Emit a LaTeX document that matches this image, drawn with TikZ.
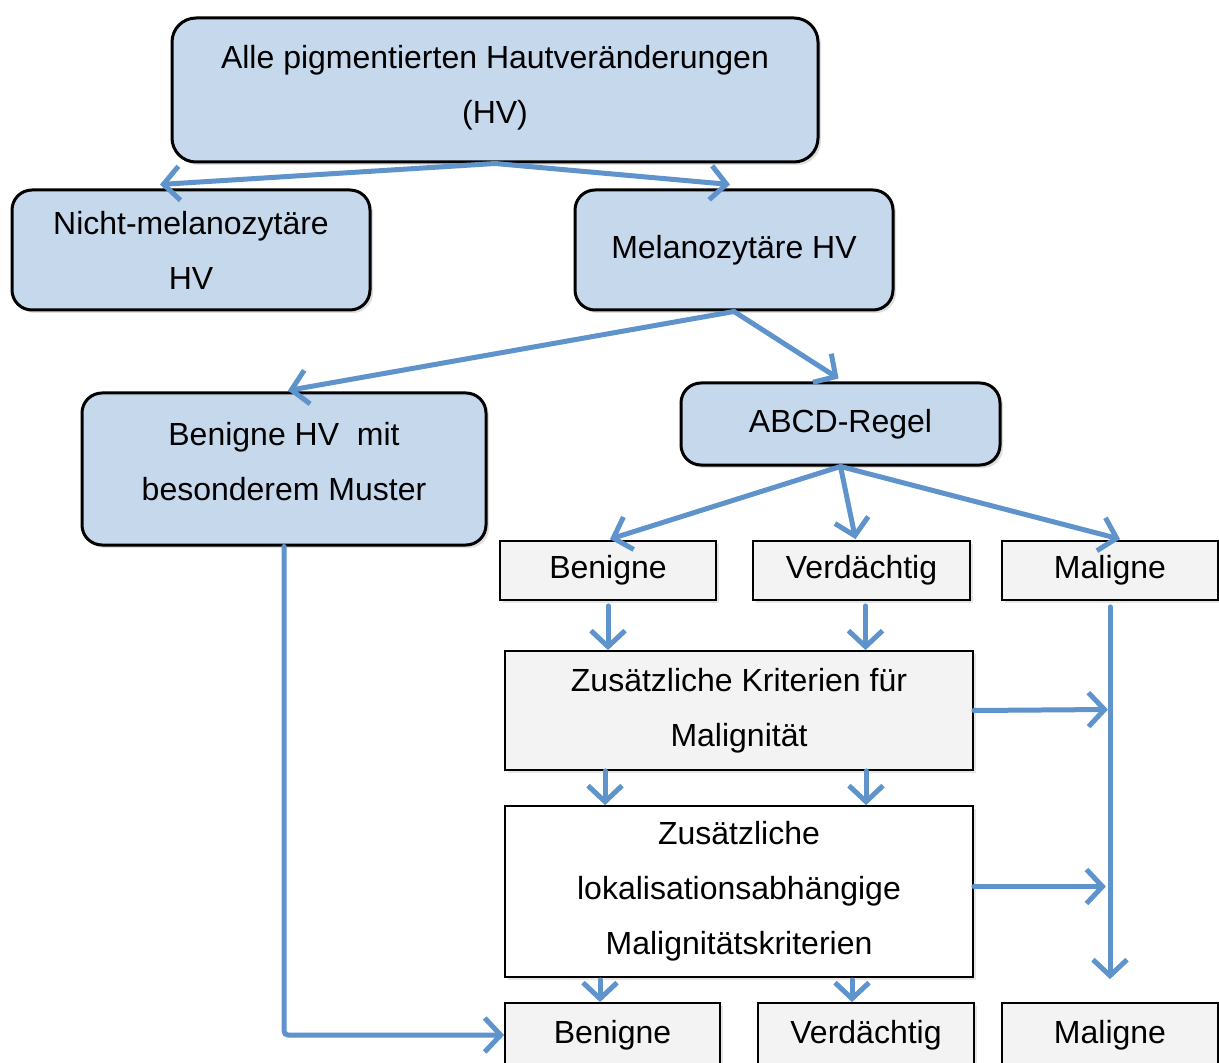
\documentclass[tikz,border=0pt]{standalone}
\usepackage{fontspec}
\setmainfont{Liberation Sans}
\usepackage{xcolor}
\usepackage{tikz}
\usetikzlibrary{calc,arrows.meta,shadows}

\definecolor{hvblue}{HTML}{C5D8EC}
\definecolor{hvgray}{HTML}{F3F3F3}
\definecolor{hvarrow}{HTML}{5E93CC}

\begin{document}
\begin{tikzpicture}[x=0.5pt,y=-0.5pt,
  font=\fontsize{16}{27.5}\selectfont,
  roundbox/.style={draw=black,line width=1.5pt,fill=hvblue,rounded corners=10pt,
    align=center,inner sep=0pt,
    drop shadow={opacity=0.25,shadow xshift=1.5pt,shadow yshift=-1.5pt}},
  rectbox/.style={draw=black,line width=0.9pt,fill=hvgray,align=center,inner sep=0pt,
    drop shadow={opacity=0.2,shadow xshift=1.5pt,shadow yshift=-1.5pt}},
  flow/.style={draw=hvarrow,line width=2.5pt,line cap=round,
    -{Straight Barb[length=8pt,width=17pt,line width=2.5pt]}}]
  \clip (0,0) rectangle (1219,1063);
  \fill[white] (0,0) rectangle (1219,1063);

  \node[roundbox,rounded corners=12pt,minimum width=323pt,minimum height=72pt,
    text depth=6pt] (alle) at (495,90)
    {Alle pigmentierten Hautveränderungen\\(HV)};
  \node[roundbox,minimum width=179pt,minimum height=60pt] (nicht) at (191,250)
    {Nicht-melanozytäre\\HV};
  \node[roundbox,minimum width=159pt,minimum height=60pt] (mela) at (734,250)
    {Melanozytäre HV};
  \node[roundbox,minimum width=202pt,minimum height=76pt,text depth=8pt] (besonders) at (284,469)
    {Benigne HV\ \ mit\\besonderem Muster};
  \node[roundbox,minimum width=159.5pt,minimum height=41pt] (abcd) at (840.5,424)
    {ABCD-Regel};

  \node[rectbox,minimum width=108pt,minimum height=29.5pt] (benA) at (608,570.5) {Benigne};
  \node[rectbox,minimum width=108.5pt,minimum height=29.5pt] (verA) at (861.5,570.5) {Verdächtig};
  \node[rectbox,minimum width=108pt,minimum height=29.5pt] (malA) at (1110,570.5) {Maligne};

  \node[rectbox,minimum width=234pt,minimum height=59.5pt] (zusatz) at (739,710.5)
    {Zusätzliche Kriterien für\\Malignität};
  \node[rectbox,fill=white,minimum width=234pt,minimum height=85.5pt] (lokal) at (739,891.5)
    {Zusätzliche\\lokalisationsabhängige\\Malignitätskriterien};

  \node[rectbox,minimum width=107.5pt,minimum height=32pt] (benB) at (612.5,1035) {Benigne};
  \node[rectbox,minimum width=108pt,minimum height=32pt] (verB) at (866,1035) {Verdächtig};
  \node[rectbox,minimum width=108pt,minimum height=32pt] (malB) at (1110,1035) {Maligne};

  \draw[flow] (alle.south) -- ($(nicht.north)+(-31,-4)$);
  \draw[flow] (alle.south) -- ($(mela.north)+(-4,-4)$);
  \draw[flow] (mela.south) -- ($(besonders.north)+(4,-1)$);
  \draw[flow] (mela.south) -- ($(abcd.north)+(-2,-3)$);
  \draw[flow] (abcd.south) -- ($(benA.north)+(2,-1)$);
  \draw[flow] (abcd.south) -- ($(verA.north)+(-6,-1)$);
  \draw[flow] (abcd.south) -- ($(malA.north)+(10,-1)$);

  \draw[flow] ($(benA.south)+(0,5)$) -- (benA.south |- zusatz.north);
  \draw[flow] ($(verA.south)+(4,5)$) -- ($(verA.south |- zusatz.north)+(4,0)$);
  \draw[flow] ($(zusatz.south)+(-134,0)$) -- ($(zusatz.south |- lokal.north)+(-134,0)$);
  \draw[flow] ($(zusatz.south)+(127,0)$) -- ($(zusatz.south |- lokal.north)+(127,0)$);
  \draw[flow] ($(lokal.south)+(-139,2)$) -- ($(lokal.south |- benB.north)+(-139,0)$);
  \draw[flow] ($(lokal.south)+(113,2)$) -- ($(lokal.south |- verB.north)+(113,0)$);

  \draw[flow] ($(malA.south)+(0,6)$) -- ($(malB.north)+(0,-23)$);
  \draw[flow] (zusatz.east) -- ($(zusatz.east)+(134,-1)$);
  \draw[flow] ($(lokal.east)+(0,-5)$) -- ($(lokal.east)+(132,-5)$);
  \draw[flow,rounded corners=2pt] (besonders.south) |- (benB.west);
\end{tikzpicture}
\end{document}
